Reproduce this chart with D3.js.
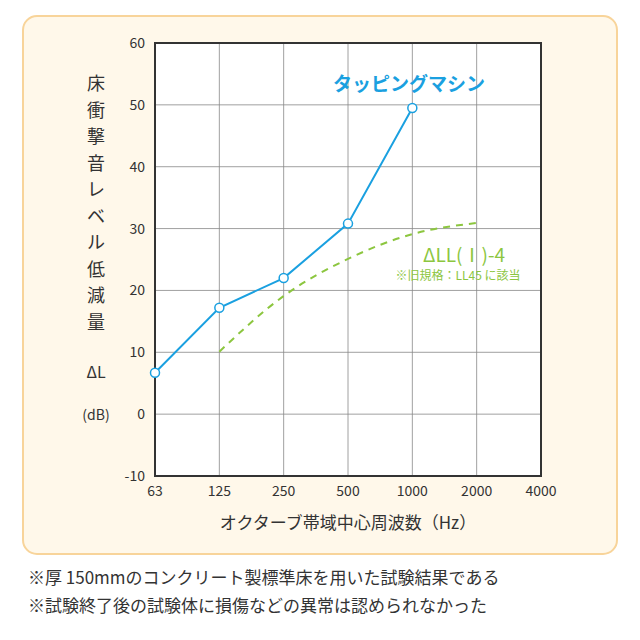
<!DOCTYPE html><html><head><meta charset="utf-8"><script src="https://cdn.jsdelivr.net/npm/d3@7"></script>
<style>body{margin:0;background:#fff}text{font-family:"Noto Sans CJK JP","Noto Sans",sans-serif}</style></head><body><svg id="c" width="640" height="640"></svg><script>
const freqs=["63","125","250","500","1000","2000","4000"];
const yTicks=[60,50,40,30,20,10,0,-10];
const tapping=[6.7,17.2,22.0,30.8,49.5];
const tappingFreqs=["63","125","250","500","1000"];
const ll=[10.1,19.1,25.1,29.1,30.9];
const llFreqs=["125","250","500","1000","2000"];
const svg=d3.select("#c");
svg.append("rect").attr("x",23).attr("y",16).attr("width",594).attr("height",538).attr("rx",14).attr("fill","#fff8ea").attr("stroke","#f8d49a").attr("stroke-width",2);
const x=d3.scalePoint().domain(freqs).range([155,541]);
const y=d3.scaleLinear().domain([-10,60]).range([476,43]);
svg.append("rect").attr("x",155).attr("y",43).attr("width",386).attr("height",433).attr("fill","#fff");
const g=svg.append("g");
freqs.forEach(f=>g.append("line").attr("x1",x(f)).attr("x2",x(f)).attr("y1",43).attr("y2",476).attr("stroke","#888").attr("stroke-width",0.8));
yTicks.forEach(v=>g.append("line").attr("x1",155).attr("x2",541).attr("y1",y(v)).attr("y2",y(v)).attr("stroke","#888").attr("stroke-width",0.8));
svg.append("rect").attr("x",155).attr("y",43).attr("width",386).attr("height",433).attr("fill","none").attr("stroke","#333").attr("stroke-width",2);
yTicks.forEach(v=>svg.append("text").attr("x",145).attr("y",y(v)+5).attr("text-anchor","end").attr("font-size",14).attr("fill","#333").text(v));
freqs.forEach(f=>svg.append("text").attr("x",x(f)).attr("y",496).attr("text-anchor","middle").attr("font-size",14).attr("fill","#333").text(f));
const lab=["床","衝","撃","音","レ","ベ","ル","低","減","量"];
lab.forEach((c,i)=>svg.append("text").attr("x",96).attr("y",90+i*26.5).attr("text-anchor","middle").attr("font-size",18).attr("fill","#333").text(c));
svg.append("text").attr("x",96).attr("y",378).attr("text-anchor","middle").attr("font-size",16).attr("fill","#333").text("ΔL");
svg.append("text").attr("x",96).attr("y",420).attr("text-anchor","middle").attr("font-size",14).attr("fill","#333").text("(dB)");
svg.append("text").attr("x",348).attr("y",529).attr("text-anchor","middle").attr("font-size",17).attr("fill","#333").text("オクターブ帯域中心周波数（Hz）");
svg.append("text").attr("x",333).attr("y",91).attr("font-size",19).attr("font-weight","bold").attr("fill","#1aa0e0").text("タッピングマシン");
svg.append("path").datum(llFreqs.map((f,i)=>[x(f),y(ll[i])])).attr("d",d3.line().curve(d3.curveMonotoneX)).attr("fill","none").attr("stroke","#8cc63f").attr("stroke-width",2).attr("stroke-dasharray","7,6");
svg.append("path").datum(tappingFreqs.map((f,i)=>[x(f),y(tapping[i])])).attr("d",d3.line()).attr("fill","none").attr("stroke","#1aa0e0").attr("stroke-width",2);
tappingFreqs.forEach((f,i)=>svg.append("circle").attr("cx",x(f)).attr("cy",y(tapping[i])).attr("r",4.5).attr("fill","#fff").attr("stroke","#1aa0e0").attr("stroke-width",1.5));
svg.append("text").attr("x",464).attr("y",262).attr("text-anchor","middle").attr("font-size",19).attr("fill","#8cc63f").text("ΔLL(Ⅰ)-4");
svg.append("text").attr("x",458).attr("y",280).attr("text-anchor","middle").attr("font-size",12).attr("fill","#8cc63f").text("※旧規格：LL45 に該当");
svg.append("text").attr("x",28).attr("y",584).attr("font-size",17).attr("fill","#333").text("※厚 150mmのコンクリート製標準床を用いた試験結果である");
svg.append("text").attr("x",28).attr("y",612).attr("font-size",17).attr("fill","#333").text("※試験終了後の試験体に損傷などの異常は認められなかった");
</script></body></html>
